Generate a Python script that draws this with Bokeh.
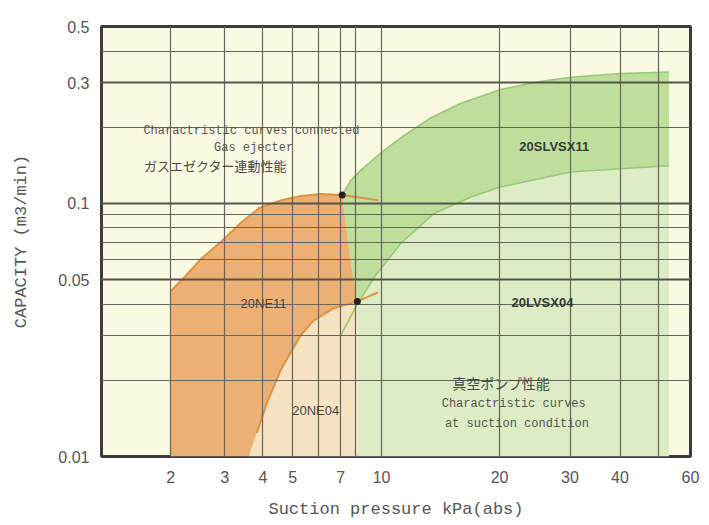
import numpy as np
from bokeh.plotting import figure
from bokeh.models import (Range1d, FixedTicker, ColumnDataSource, Label, Grid,
                          CustomJSTransform)
from bokeh.transform import transform
from bokeh.embed import file_html
from bokeh.resources import INLINE

# ---------------- data (kPa, m3/min) ----------------
x_ticks = [2, 3, 4, 5, 7, 10, 20, 30, 40, 60]
x_tick_labels = ["2", "3", "4", "5", "7", "10", "20", "30", "40", "60"]
x_grid_values = [2, 3, 4, 5, 6, 7, 8, 10, 20, 30, 40, 50]
y_ticks = [0.01, 0.05, 0.1, 0.3, 0.5]
y_tick_labels = ["0.01", "0.05", "0.1", "0.3", "0.5"]
y_grid_values = [0.01, 0.02, 0.03, 0.04, 0.05, 0.06, 0.07, 0.08, 0.09,
                 0.1, 0.2, 0.3, 0.4, 0.5]
y_heavy_grid = [0.05, 0.1, 0.3]

# 20NE11 upper curve (gas ejector connected)
ne11_top_p = [2.0, 2.25, 2.5, 2.9, 3.4, 3.9, 4.6, 5.3, 6.1, 7.1]
ne11_top_q = [0.045, 0.052, 0.060, 0.070, 0.084, 0.096, 0.103, 0.107, 0.109, 0.108]
# 20NE11 right edge (upper point -> lower point)
ne11_edge_p = [7.1, 7.37, 7.64, 7.9, 8.1]
ne11_edge_q = [0.108, 0.078, 0.0595, 0.0474, 0.041]
# 20NE04 upper curve (lower point -> down-left)
ne04_top_p = [8.1, 6.66, 5.8, 5.29, 5.04, 4.57, 4.15, 3.82]
ne04_top_q = [0.041, 0.0385, 0.0345, 0.0301, 0.027, 0.0219, 0.0166, 0.0124]
ne04_foot_p = 3.6
ne11_left_p = 2.0
# short continuation lines beyond the connection points
ext_upper_p = [7.1, 9.7]
ext_upper_q = [0.108, 0.103]
ext_lower_p = [8.1, 9.7]
ext_lower_q = [0.041, 0.0445]
# connection points
pts_p = [7.1, 8.1]
pts_q = [0.108, 0.041]

# 20SLVSX11 band
sx11_top_p = [7.1, 7.64, 8.34, 10, 11.2, 13.3, 15.9, 20.1, 25.3, 30.1, 40.1, 53]
sx11_top_q = [0.108, 0.123, 0.135, 0.159, 0.182, 0.217, 0.248, 0.282, 0.303, 0.315, 0.326, 0.330]
sx11_low_p = [7.0, 8.1, 9.5, 11.2, 13.6, 16.9, 20.1, 30.1, 40.1, 53]
sx11_low_q = [0.030, 0.040, 0.052, 0.0695, 0.0913, 0.106, 0.116, 0.133, 0.137, 0.141]
# 20LVSX04 region right limit
lvsx04_right_p = 53
q_min = 0.01

# ---------------- x scale: piecewise logarithmic, as in the original sheet ----
scale_kpa = [2, 5, 7, 10, 20, 60]
scale_pos = [170.0, 292.0, 340.0, 381.0, 499.0, 690.0]
_lk = np.log10(np.array(scale_kpa, dtype=float))
_pk = np.array(scale_pos)


def u(p):
    l = np.log10(np.asarray(p, dtype=float))
    j = np.clip(np.searchsorted(_lk, l, side="left") - 1, 0, len(_lk) - 2)
    return _pk[j] + (l - _lk[j]) * (_pk[j + 1] - _pk[j]) / (_lk[j + 1] - _lk[j])


xscale = CustomJSTransform(
    args=dict(lk=[float(v) for v in _lk], pk=[float(v) for v in _pk]),
    func="""
const l = Math.log10(x);
let j = 0;
while (j < lk.length - 2 && l > lk[j + 1]) j++;
return pk[j] + (l - lk[j]) * (pk[j + 1] - pk[j]) / (lk[j + 1] - lk[j]);
""",
    v_func="""
const out = new Array(xs.length);
for (let i = 0; i < xs.length; i++) {
  const l = Math.log10(xs[i]);
  let j = 0;
  while (j < lk.length - 2 && l > lk[j + 1]) j++;
  out[i] = pk[j] + (l - lk[j]) * (pk[j + 1] - pk[j]) / (lk[j + 1] - lk[j]);
}
return out;
""")

X = transform("x", xscale)


def src(px, qy):
    return ColumnDataSource(dict(x=list(px), y=list(qy)))


# ---------------- figure ----------------
p = figure(width=700, height=524,
           x_range=Range1d(float(u(1.19)), float(u(60))),
           y_range=Range1d(0.01, 0.5), y_axis_type="log",
           output_backend="svg", toolbar_location=None,
           min_border_left=101, min_border_right=10,
           min_border_top=26, min_border_bottom=68)

p.background_fill_color = "#FAFAE3"
p.border_fill_color = "#FFFFFF"
p.outline_line_color = "#3c3c3c"
p.outline_line_width = 3

# polygons
lg_p = [sx11_low_p[1]] + [sx11_low_p[1]] + ne11_edge_p[::-1] + sx11_top_p[1:] + [lvsx04_right_p]
lg_q = [q_min] + [ne11_edge_q[-1]] + ne11_edge_q[::-1] + sx11_top_q[1:] + [q_min]
p.patch(x=X, y="y", source=src(lg_p, lg_q), fill_color="#DDECC4", line_color=None)

band_p = sx11_top_p + sx11_low_p[::-1][:-2] + ne11_edge_p[::-1]
band_q = sx11_top_q + sx11_low_q[::-1][:-2] + ne11_edge_q[::-1]
p.patch(x=X, y="y", source=src(band_p, band_q), fill_color="#BFDD9B", line_color=None)

ne04_p = [ne04_foot_p] + ne04_top_p[::-1] + [ne04_top_p[0]]
ne04_q = [q_min] + ne04_top_q[::-1] + [q_min]
p.patch(x=X, y="y", source=src(ne04_p, ne04_q), fill_color="#F5E3C2", line_color=None)

ne11_p = [ne11_left_p] + ne11_top_p + ne11_edge_p[1:] + ne04_top_p[1:] + [ne04_foot_p]
ne11_q = [q_min] + ne11_top_q + ne11_edge_q[1:] + ne04_top_q[1:] + [q_min]
p.patch(x=X, y="y", source=src(ne11_p, ne11_q), fill_color="#EDB074", line_color=None)

# boundary lines
p.line(x=X, y="y", source=src(sx11_top_p, sx11_top_q), line_color="#98C878", line_width=1.6)
p.line(x=X, y="y", source=src(sx11_low_p, sx11_low_q), line_color="#98C878", line_width=1.6)
p.line(x=X, y="y", source=src(ne11_top_p, ne11_top_q), line_color="#E0913F", line_width=2)
p.line(x=X, y="y", source=src(ne04_top_p, ne04_top_q), line_color="#E0913F", line_width=2)
p.line(x=X, y="y", source=src(ext_upper_p, ext_upper_q), line_color="#E0913F", line_width=2)
p.line(x=X, y="y", source=src(ext_lower_p, ext_lower_q), line_color="#E0913F", line_width=2)
dots = p.scatter(x=X, y="y", source=src(pts_p, pts_q), size=7, fill_color="#222222",
                 line_color=None)
dots.level = "annotation"

# grids (drawn over the filled areas)
grid_color = "#66665C"
p.xgrid.ticker = FixedTicker(ticks=[float(u(v)) for v in x_grid_values])
p.ygrid.ticker = FixedTicker(ticks=y_grid_values)
for g in (p.xgrid[0], p.ygrid[0]):
    g.grid_line_color = grid_color
    g.grid_line_width = 1.2
    g.level = "guide"
heavy = Grid(dimension=1, ticker=FixedTicker(ticks=y_heavy_grid),
             grid_line_color="#55554C", grid_line_width=2, level="guide")
p.add_layout(heavy)

# axes
p.xaxis.ticker = FixedTicker(ticks=[float(u(t)) for t in x_ticks])
p.xaxis.major_label_overrides = {float(u(t)): s for t, s in zip(x_ticks, x_tick_labels)}
p.yaxis.ticker = FixedTicker(ticks=y_ticks)
p.yaxis.major_label_overrides = {t: s for t, s in zip(y_ticks, y_tick_labels)}
for ax in (p.xaxis[0], p.yaxis[0]):
    ax.axis_line_color = None
    ax.major_tick_line_color = None
    ax.minor_tick_line_color = None
    ax.major_tick_out = 0
    ax.major_label_text_font = "Liberation Sans"
    ax.major_label_text_font_size = "16px"
    ax.major_label_text_color = "#555555"
    ax.axis_label_text_font = "Liberation Mono"
    ax.axis_label_text_font_size = "17px"
    ax.axis_label_text_font_style = "normal"
    ax.axis_label_text_color = "#555555"
p.xaxis.axis_label = "Suction pressure kPa(abs)"
p.yaxis.axis_label = "CAPACITY (m3/min)"
p.xaxis.major_label_standoff = 14
p.xaxis.axis_label_standoff = 14
p.yaxis.major_label_standoff = 12
p.yaxis.axis_label_standoff = 24


def lab(kpa, q, text, font="Liberation Mono", size="12px", color="#555555",
        style="normal", align="center"):
    p.add_layout(Label(x=float(u(kpa)), y=q, text=text, text_font=font,
                       text_font_size=size, text_color=color, text_font_style=style,
                       text_align=align, text_baseline="middle"))


lab(3.67, 0.194, "Charactristic curves connected")
lab(3.73, 0.166, "Gas ejecter")
lab(2.8, 0.141, "ガスエゼクター連動性能", font="Noto Sans CJK JP", size="13px", color="#4a4a4a")
lab(4.02, 0.0402, "20NE11", font="Liberation Sans", size="13px", color="#444444")
lab(5.88, 0.0152, "20NE04", font="Liberation Sans", size="13px", color="#444444")
lab(27.4, 0.168, "20SLVSX11", font="Liberation Sans", size="13px", color="#3a3a3a", style="bold")
lab(25.6, 0.0406, "20LVSX04", font="Liberation Sans", size="13px", color="#3a3a3a", style="bold")
lab(20.2, 0.0196, "真空ポンプ性能", font="Noto Sans CJK JP", size="14px", color="#4a4a4a")
lab(21.7, 0.01606, "Charactristic curves")
lab(22.1, 0.0135, "at suction condition")
lab(59.6, 0.543, "50Hz・60Hz", font="Liberation Sans", size="15px", color="#555555",
    align="right")

open("out.html", "w").write(file_html(p, INLINE))
